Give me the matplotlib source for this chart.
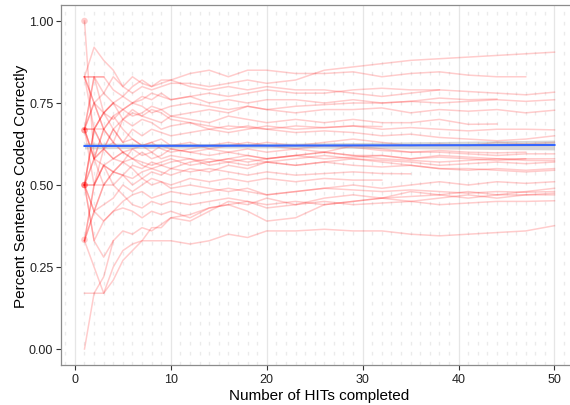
import matplotlib

matplotlib.use("Agg")

import matplotlib.pyplot as plt  # noqa: E402

plt.rcParams["font.family"] = ["Liberation Sans", "DejaVu Sans"]

# HIT counts at which each coder's running accuracy is sampled
hits = [1, 2, 3, 4, 5, 6, 7, 8, 9, 10, 12, 14, 16, 18, 20,
        23, 26, 29, 32, 35, 38, 41, 44, 47, 50]

# running share of sentences coded correctly, one list per coder
# (shorter lists = coders who stopped earlier)
coder_t1 = [0.83, 0.92, 0.88, 0.85, 0.80, 0.78, 0.80, 0.79, 0.80, 0.81, 0.81, 0.80, 0.81,
            0.82, 0.81, 0.82, 0.85, 0.86, 0.87, 0.88, 0.885, 0.89, 0.895, 0.90, 0.905]
coder_t2 = [0.67, 0.75, 0.78, 0.83, 0.80, 0.83, 0.81, 0.80, 0.82, 0.82, 0.84, 0.85, 0.83,
            0.85, 0.85, 0.84, 0.84, 0.845, 0.83, 0.84, 0.845, 0.835, 0.83, 0.83]
coder_t3 = [0.67, 0.83, 0.78, 0.75, 0.77, 0.80, 0.82, 0.80, 0.81, 0.82, 0.80, 0.79, 0.80,
            0.79, 0.80, 0.79, 0.79, 0.78, 0.77, 0.78, 0.79, 0.785, 0.78, 0.775, 0.783]
coder_t4 = [0.50, 0.67, 0.72, 0.75, 0.73, 0.75, 0.77, 0.76, 0.78, 0.76, 0.77, 0.75, 0.76,
            0.75, 0.76, 0.76, 0.75, 0.76, 0.75, 0.755, 0.765, 0.76, 0.762]
coder_t5 = [0.83, 0.75, 0.72, 0.70, 0.73, 0.71, 0.72, 0.74, 0.73, 0.74, 0.75, 0.74, 0.73,
            0.74, 0.73, 0.74, 0.745, 0.75, 0.75, 0.755, 0.75, 0.755, 0.76, 0.755, 0.76]
coder_t6 = [1.00, 0.58, 0.67, 0.71, 0.73, 0.75, 0.74, 0.72, 0.73, 0.71, 0.72, 0.73, 0.72,
            0.74, 0.73, 0.72, 0.73, 0.73, 0.735, 0.72, 0.73, 0.725, 0.73, 0.72, 0.728]
coder_t7 = [0.67, 0.67, 0.61, 0.67, 0.70, 0.73, 0.71, 0.70, 0.69, 0.71, 0.70, 0.69, 0.71,
            0.70, 0.69, 0.70, 0.69, 0.70, 0.69, 0.69, 0.70, 0.685, 0.686]
coder_t8 = [0.50, 0.58, 0.67, 0.63, 0.70, 0.72, 0.71, 0.73, 0.72, 0.70, 0.69, 0.68, 0.67,
            0.68, 0.67, 0.66, 0.665, 0.66, 0.65, 0.655, 0.645, 0.64, 0.635, 0.64, 0.65]
coder_t9 = [0.83, 0.83, 0.72, 0.75, 0.70, 0.68, 0.70, 0.69, 0.67, 0.68, 0.69, 0.67, 0.68,
            0.675, 0.67, 0.68, 0.675, 0.68, 0.678]
coder_t10 = [0.67, 0.83, 0.83, 0.79, 0.77, 0.75, 0.76, 0.78, 0.77, 0.76, 0.77, 0.78, 0.77,
             0.78, 0.79, 0.78, 0.78, 0.79, 0.795, 0.79, 0.79]
coder_m1 = [0.50, 0.67, 0.72, 0.67, 0.63, 0.64, 0.62, 0.63, 0.64, 0.62, 0.63, 0.61, 0.62,
            0.63, 0.62, 0.61, 0.62, 0.615, 0.605, 0.60, 0.605, 0.60, 0.598, 0.60]
coder_m2 = [0.67, 0.50, 0.56, 0.58, 0.60, 0.61, 0.59, 0.60, 0.62, 0.61, 0.60, 0.61, 0.60,
            0.61, 0.60, 0.61, 0.60, 0.62, 0.61, 0.60, 0.60, 0.595, 0.59, 0.595, 0.595]
coder_m3 = [0.33, 0.50, 0.56, 0.54, 0.57, 0.58, 0.60, 0.58, 0.59, 0.61, 0.60, 0.59, 0.60,
            0.59, 0.58, 0.59, 0.60, 0.59, 0.58, 0.575, 0.57, 0.575, 0.58, 0.575, 0.574]
coder_m4 = [0.67, 0.75, 0.67, 0.63, 0.60, 0.58, 0.57, 0.56, 0.57, 0.58, 0.56, 0.57, 0.58,
            0.57, 0.58, 0.59, 0.58, 0.585, 0.59, 0.58, 0.585, 0.58, 0.575, 0.58, 0.58]
coder_m5 = [0.50, 0.42, 0.50, 0.54, 0.53, 0.56, 0.55, 0.57, 0.56, 0.55, 0.57, 0.58, 0.57,
            0.56, 0.57, 0.58, 0.59, 0.58, 0.575, 0.57, 0.56, 0.565, 0.57, 0.565, 0.57]
coder_m6 = [0.83, 0.67, 0.61, 0.58, 0.60, 0.58, 0.56, 0.55, 0.56, 0.57, 0.58, 0.56, 0.57,
            0.58, 0.57, 0.56, 0.57, 0.56, 0.555, 0.56, 0.55, 0.545, 0.55, 0.545, 0.55]
coder_m7 = [0.50, 0.50, 0.56, 0.54, 0.53, 0.52, 0.54, 0.55, 0.54, 0.53, 0.55, 0.54, 0.56,
            0.55, 0.57, 0.56, 0.57, 0.58, 0.57, 0.56, 0.55, 0.55, 0.545, 0.54, 0.545]
coder_m8 = [0.67, 0.58, 0.50, 0.54, 0.57, 0.55, 0.52, 0.54, 0.53, 0.55, 0.54, 0.55, 0.54,
            0.53, 0.54, 0.53, 0.535, 0.54, 0.535, 0.534]
coder_m9 = [0.33, 0.42, 0.44, 0.46, 0.50, 0.48, 0.50, 0.52, 0.51, 0.50, 0.52, 0.51, 0.52,
            0.51, 0.52, 0.51, 0.52, 0.515, 0.515]
coder_m10 = [0.50, 0.42, 0.39, 0.42, 0.45, 0.47, 0.48, 0.46, 0.47, 0.48, 0.47, 0.48, 0.49,
             0.48, 0.47, 0.48, 0.49, 0.50, 0.49, 0.50, 0.51, 0.50, 0.51, 0.505, 0.51]
coder_m11 = [0.67, 0.58, 0.56, 0.50, 0.53, 0.50, 0.52, 0.50, 0.51, 0.49, 0.50, 0.49, 0.48,
             0.49, 0.47, 0.48, 0.49, 0.485, 0.48, 0.485, 0.48, 0.475, 0.48, 0.478, 0.48]
coder_m12 = [0.33, 0.42, 0.50, 0.50, 0.47, 0.44, 0.43, 0.45, 0.44, 0.45, 0.44, 0.45, 0.46,
             0.45, 0.44, 0.45, 0.44, 0.45, 0.46, 0.465, 0.47, 0.46, 0.47, 0.47, 0.475]
coder_m13 = [0.50, 0.33, 0.39, 0.42, 0.43, 0.42, 0.40, 0.42, 0.41, 0.42, 0.40, 0.43, 0.44,
             0.45, 0.43, 0.44, 0.45, 0.44, 0.445, 0.45, 0.44, 0.445, 0.45, 0.45, 0.452]
coder_m14 = [0.83, 0.75, 0.67, 0.71, 0.67, 0.64, 0.62, 0.63, 0.61, 0.60, 0.61, 0.62, 0.63,
             0.62, 0.63, 0.62, 0.63, 0.64, 0.63, 0.62, 0.625, 0.62, 0.63, 0.625, 0.63]
coder_m15 = [0.67, 0.58, 0.61, 0.58, 0.57, 0.61, 0.62, 0.60, 0.58, 0.59, 0.58, 0.57, 0.58,
             0.59, 0.58, 0.59, 0.60, 0.59, 0.59, 0.58, 0.59, 0.585, 0.58, 0.58]
coder_m16 = [0.50, 0.58, 0.61, 0.67, 0.63, 0.67, 0.65, 0.67, 0.66, 0.65, 0.66, 0.67, 0.66,
             0.67, 0.68, 0.67, 0.675, 0.68, 0.67, 0.675, 0.67, 0.665, 0.67, 0.67, 0.668]
coder_b1 = [0.33, 0.25, 0.17, 0.25, 0.30, 0.32, 0.33, 0.33, 0.33, 0.33, 0.32, 0.33, 0.35,
            0.34, 0.36, 0.36, 0.365, 0.36, 0.36, 0.35, 0.345, 0.35, 0.355, 0.36, 0.376]
coder_b2 = [0.17, 0.17, 0.17, 0.21, 0.27, 0.30, 0.33, 0.37, 0.37, 0.40, 0.39, 0.42, 0.45,
            0.44, 0.46, 0.44, 0.46, 0.47, 0.46, 0.48, 0.47, 0.48, 0.47, 0.48, 0.49]
coder_b3 = [0.00, 0.17, 0.22, 0.33]
coder_b4 = [0.50, 0.33, 0.28, 0.33, 0.36, 0.35, 0.37, 0.36, 0.38, 0.40, 0.41, 0.43, 0.44,
            0.42, 0.39, 0.40, 0.44, 0.45, 0.46, 0.45, 0.46, 0.47, 0.46, 0.47, 0.47]
coder_s1 = [0.67, 0.67, 0.67]
coder_s2 = [0.50, 0.50, 0.50]
coder_s3 = [0.83, 0.83, 0.83]
coder_s4 = [0.50, 0.67, 0.72, 0.75]
coder_s5 = [0.33, 0.50, 0.61, 0.63, 0.60]

coders = [
    coder_t1, coder_t2, coder_t3, coder_t4, coder_t5, coder_t6, coder_t7, coder_t8,
    coder_t9, coder_t10, coder_m1, coder_m2, coder_m3, coder_m4, coder_m5, coder_m6,
    coder_m7, coder_m8, coder_m9, coder_m10, coder_m11, coder_m12, coder_m13, coder_m14,
    coder_m15, coder_m16, coder_b1, coder_b2, coder_b3, coder_b4,
    coder_s1, coder_s2, coder_s3, coder_s4, coder_s5,
]

# coders with a single HIT (drawn as points)
single_hit_x = [1, 1, 1, 1, 1, 1, 1]
single_hit_y = [1.0, 0.667, 0.667, 0.5, 0.5, 0.5, 0.333]

# overall linear fit with its confidence band
fit_x = [1, 10, 20, 30, 40, 50]
fit_y = [0.619, 0.6195, 0.620, 0.6207, 0.6213, 0.622]
fit_lo = [0.610, 0.6125, 0.613, 0.6117, 0.6093, 0.607]
fit_hi = [0.628, 0.6265, 0.627, 0.6297, 0.6333, 0.637]

fig = plt.figure(figsize=(5.7, 4.06), dpi=100)
ax = fig.add_axes([61 / 570, 39.6 / 406, 517 / 570, 360.8 / 406])

# dashed minor grid at every HIT, solid major grid every 10
for x in range(-1, 53):
    if x % 10 == 0:
        continue
    ax.axvline(x, color="#ebebeb", lw=1.0, ls=(0, (2.6, 4.6)), zorder=0)
for x in range(0, 60, 10):
    ax.axvline(x, color="#e6e6e6", lw=0.9, zorder=0)

for vals in coders:
    ax.plot(hits[:len(vals)], vals, color="#ff0000", alpha=0.2, lw=1.1,
            solid_joinstyle="round", zorder=2)
ax.scatter(single_hit_x, single_hit_y, s=22, color="#ff0000", alpha=0.2,
           edgecolors="none", zorder=3)

ax.fill_between(fit_x, fit_lo, fit_hi, color="#999999", alpha=0.4, lw=0, zorder=4)
ax.plot(fit_x, fit_y, color="#3366ff", lw=1.5, zorder=5)

ax.set_xlim(-1.45, 52.45)
ax.set_ylim(-0.05, 1.05)
ax.set_xticks([0, 10, 20, 30, 40, 50])
ax.set_yticks([0.0, 0.25, 0.5, 0.75, 1.0])
ax.set_yticklabels(["0.00", "0.25", "0.50", "0.75", "1.00"])
ax.tick_params(length=3.5, width=0.8, color="#333333", labelcolor="#222222",
               labelsize=9, pad=2)

for side in ("left", "bottom", "top", "right"):
    ax.spines[side].set_color("#8c8c8c")
    ax.spines[side].set_linewidth(0.9)

ax.set_xlabel("Number of HITs completed", fontsize=11, labelpad=2)
ax.set_ylabel("Percent Sentences Coded Correctly", fontsize=11, labelpad=1)

fig.savefig("out.png", dpi=100)
plt.close("all")
